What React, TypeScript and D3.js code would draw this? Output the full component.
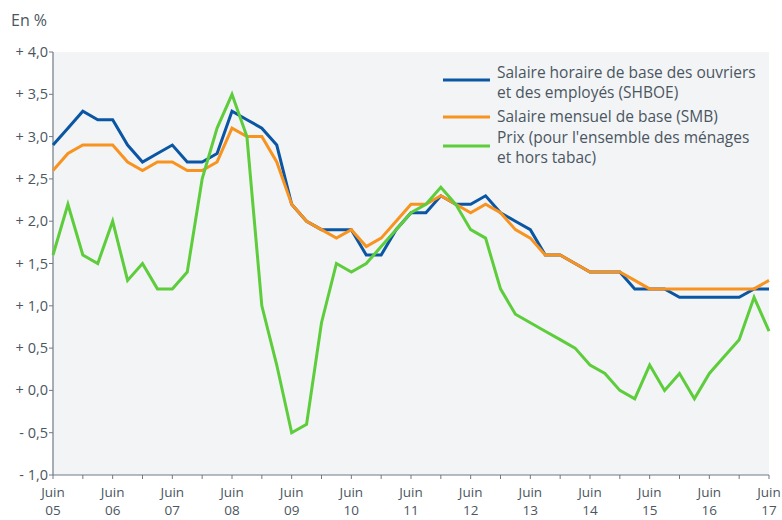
import React from 'react';
import * as d3 from 'd3';

// quarterly observations, June 2005 to June 2017
const shboe = [
  2.9, 3.1, 3.3, 3.2, 3.2, 2.9, 2.7, 2.8, 2.9, 2.7, 2.7, 2.8, 3.3, 3.2, 3.1, 2.9,
  2.2, 2.0, 1.9, 1.9, 1.9, 1.6, 1.6, 1.9, 2.1, 2.1, 2.3, 2.2, 2.2, 2.3, 2.1, 2.0,
  1.9, 1.6, 1.6, 1.5, 1.4, 1.4, 1.4, 1.2, 1.2, 1.2, 1.1, 1.1, 1.1, 1.1, 1.1, 1.2, 1.2,
];
const smb = [
  2.6, 2.8, 2.9, 2.9, 2.9, 2.7, 2.6, 2.7, 2.7, 2.6, 2.6, 2.7, 3.1, 3.0, 3.0, 2.7,
  2.2, 2.0, 1.9, 1.8, 1.9, 1.7, 1.8, 2.0, 2.2, 2.2, 2.3, 2.2, 2.1, 2.2, 2.1, 1.9,
  1.8, 1.6, 1.6, 1.5, 1.4, 1.4, 1.4, 1.3, 1.2, 1.2, 1.2, 1.2, 1.2, 1.2, 1.2, 1.2, 1.3,
];
const prix = [
  1.6, 2.2, 1.6, 1.5, 2.0, 1.3, 1.5, 1.2, 1.2, 1.4, 2.5, 3.1, 3.5, 3.0, 1.0, 0.3,
  -0.5, -0.4, 0.8, 1.5, 1.4, 1.5, 1.7, 1.9, 2.1, 2.2, 2.4, 2.2, 1.9, 1.8, 1.2, 0.9,
  0.8, 0.7, 0.6, 0.5, 0.3, 0.2, 0.0, -0.1, 0.3, 0.0, 0.2, -0.1, 0.2, 0.4, 0.6, 1.1, 0.7,
];
const yearLabels = ['05', '06', '07', '08', '09', '10', '11', '12', '13', '14', '15', '16', '17'];
const yTicks = [-1, -0.5, 0, 0.5, 1, 1.5, 2, 2.5, 3, 3.5, 4];

const series = [
  { name: ['Salaire horaire de base des ouvriers', 'et des employés (SHBOE)'], values: shboe, color: '#0b56a3' },
  { name: ['Salaire mensuel de base (SMB)'], values: smb, color: '#f7931e' },
  { name: ["Prix (pour l'ensemble des ménages", 'et hors tabac)'], values: prix, color: '#5dcd3b' },
];

const left = 53;
const right = 769;
const top = 52;
const bottom = 475;
const font = '"Open Sans", "Noto Sans", sans-serif';
const textColor = '#4b5661';
const axisColor = '#6f7a85';

const fmt = (v: number) => {
  const s = Math.abs(v).toFixed(1).replace('.', ',');
  return (v < 0 ? '- ' : '+ ') + s;
};

const App: React.FC = () => {
  const x = d3.scaleLinear().domain([0, 48]).range([left, right]);
  const y = d3.scaleLinear().domain([-1, 4]).range([bottom, top]);
  const line = d3
    .line<number>()
    .x((_, i) => x(i))
    .y((d) => y(d));

  const halfYears = d3.range(0, 49, 2);

  return (
    <svg width={782} height={520} style={{ position: 'absolute', left: 0, top: 0 }} fontFamily={font}>
      <rect x={left} y={top} width={right - left} height={bottom - top} fill="#f2f4f6" />
      <text x={11} y={26} fontSize={16} fill={textColor}>
        En %
      </text>

      {/* y axis */}
      <line x1={left} x2={left} y1={top} y2={bottom} stroke={axisColor} strokeWidth={1.2} />
      {yTicks.map((t) => (
        <g key={t}>
          <line x1={left - 4} x2={left} y1={y(t)} y2={y(t)} stroke={axisColor} />
          <text x={48} y={y(t) + 5} fontSize={14.5} textAnchor="end" fill={textColor}>
            {fmt(t)}
          </text>
        </g>
      ))}

      {/* x axis */}
      <line x1={left} x2={right} y1={bottom} y2={bottom} stroke={axisColor} strokeWidth={1.2} />
      {halfYears.map((q) => (
        <line key={q} x1={x(q)} x2={x(q)} y1={bottom} y2={bottom + 4} stroke={axisColor} />
      ))}
      {yearLabels.map((lab, i) => (
        <g key={lab}>
          <text x={x(i * 4)} y={497} textAnchor="middle" fontSize={13.5} fill={textColor}>
            Juin
          </text>
          <text x={x(i * 4)} y={515} textAnchor="middle" fontSize={13.5} fill={textColor}>
            {lab}
          </text>
        </g>
      ))}

      {series.map((s) => (
        <path key={s.color} d={line(s.values) || ''} fill="none" stroke={s.color} strokeWidth={3} strokeLinejoin="miter" />
      ))}

      {/* legend */}
      {series.map((s, i) => {
        const ly = [80, 117, 146][i];
        const baseline = [78, 122, 143][i];
        return (
          <g key={'leg' + i}>
            <line x1={443} x2={490} y1={ly} y2={ly} stroke={s.color} strokeWidth={3} />
            <text fontSize={15.5} fill={textColor}>
              {s.name.map((n, j) => (
                <tspan key={j} x={497} y={baseline + j * 20}>
                  {n}
                </tspan>
              ))}
            </text>
          </g>
        );
      })}
    </svg>
  );
};

export default App;
